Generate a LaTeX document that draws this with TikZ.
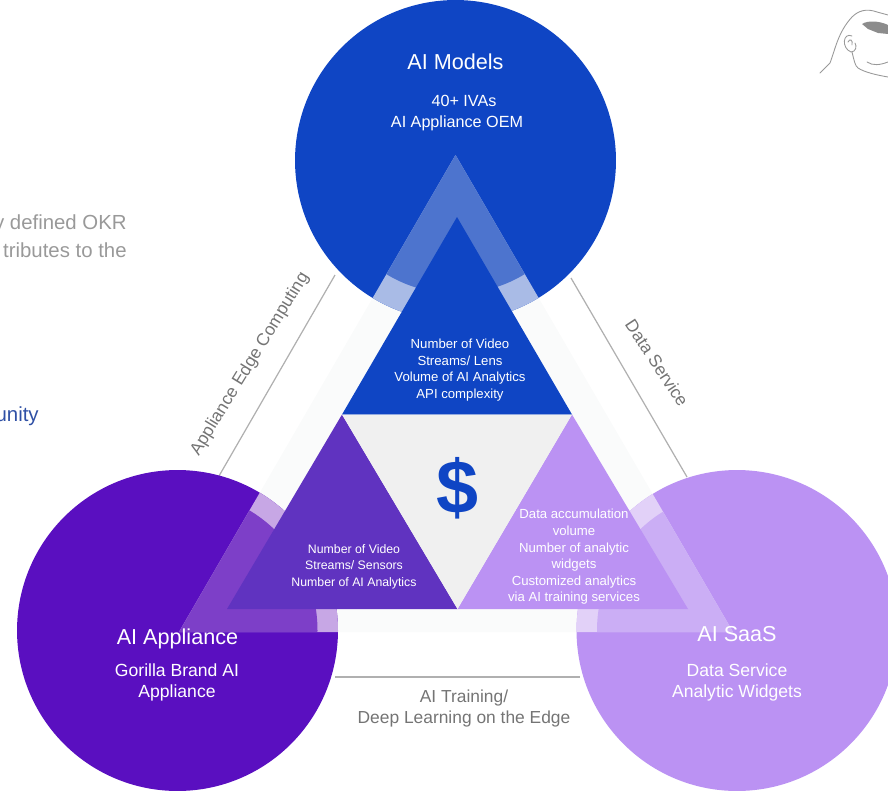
\documentclass[tikz,border=0pt]{standalone}
\usepackage{fontspec}
\setmainfont{Liberation Sans}
\usepackage{xcolor}
\usepackage{tikz}
\usetikzlibrary{positioning}
\usetikzlibrary{calc}
\definecolor{modelblue}{HTML}{0F45C4}
\definecolor{modelband}{HTML}{4D74CE}
\definecolor{modelring}{HTML}{A9BBE6}
\definecolor{appliancepurple}{HTML}{5A0FC0}
\definecolor{applianceband}{HTML}{7D3FC8}
\definecolor{appliancering}{HTML}{C7A7E5}
\definecolor{applianceinner}{HTML}{6033C0}
\definecolor{saaslilac}{HTML}{BB92F3}
\definecolor{saasband}{HTML}{CBAEF5}
\definecolor{saasring}{HTML}{E2D1F8}
\definecolor{bandgrey}{HTML}{FAFBFB}
\definecolor{centergrey}{HTML}{F0F0F0}
\definecolor{linkgrey}{HTML}{B0B0B0}
\definecolor{labelgrey}{HTML}{747474}
\definecolor{unityblue}{HTML}{2F50A5}
\tikzstyle{hub} = [circle,draw=none,inner sep=0pt,minimum size=6.42cm]
\tikzstyle{title} = [text=white,inner sep=0pt,font=\fontsize{12.3}{14}\selectfont]
\tikzstyle{sub} = [text=white,inner sep=0pt,align=center,font=\fontsize{9.2}{12}\selectfont]
\tikzstyle{metric} = [text=white,inner sep=0pt,align=center,font=\fontsize{7.5}{9.45}\selectfont]
\tikzstyle{link} = [draw=linkgrey,line width=0.7pt]
\tikzstyle{linklabel} = [text=labelgrey,inner sep=0pt,align=center,font=\fontsize{9.9}{11.9}\selectfont]
\tikzstyle{sidetext} = [inner sep=0pt,font=\fontsize{11.6}{15.9}\selectfont]
\tikzstyle{sketch} = [draw=black!40,line width=0.5pt,line cap=round,line join=round]
\newcommand{\bandpart}[4]{ %
  % Paint the band where it crosses circle #1.
  \begin{scope}
    \clip (#1.center) circle (160.5);
    \fill[#2] (apex) -- (baseL) -- (baseR) -- cycle;
    \clip (#1.center) circle (#4);
    \fill[#3] (apex) -- (baseL) -- (baseR) -- cycle;
  \end{scope}
}

\begin{document}
\begin{tikzpicture}[x=0.02cm,y=-0.02cm]
  \useasboundingbox (0,0) rectangle (888,791);
  % band corners
  \coordinate (apex) at (455.5,155);
  \coordinate (baseL) at (179,632);
  \coordinate (baseR) at (733,632);
  % inner corners
  \coordinate (top) at (457,217);
  \coordinate (midL) at (342,414.5);
  \coordinate (midR) at (572,414.5);
  \coordinate (botL) at (227,609);
  \coordinate (botC) at (457.5,609);
  \coordinate (botR) at (688,609);
  % link ends
  \coordinate (edgeA) at (335,275);
  \coordinate (edgeB) at (219,476);
  \coordinate (dataA) at (571,278);
  \coordinate (dataB) at (687,477);
  \coordinate (trainA) at (335,677);
  \coordinate (trainB) at (580,677);

  % links
  \draw[link] (edgeA) -- (edgeB);
  \draw[link] (dataA) -- (dataB);
  \draw[link] (trainA) -- (trainB);
  % band
  \fill[bandgrey] (apex) -- (baseL) -- (baseR) -- cycle;
  % circles
  \node[hub, fill=modelblue]       (models)    at (455.5,160.5) {};
  \node[hub, fill=appliancepurple] (appliance) at (177.5,630.5) {};
  \node[hub, fill=saaslilac]       (saas)      at (737,630.5) {};
  \bandpart{models}{modelring}{modelband}{133}
  \bandpart{appliance}{appliancering}{applianceband}{140}
  \bandpart{saas}{saasring}{saasband}{140}
  % inner triangles
  \fill[modelblue] (top) -- (midL) -- (midR) -- cycle;
  \fill[applianceinner] (midL) -- (botL) -- (botC) -- cycle;
  \fill[saaslilac] (midR) -- (botC) -- (botR) -- cycle;
  \fill[centergrey] (midL) -- (midR) -- (botC) -- cycle;

  % circle text
  \node[title] (modelstag) at (455.5,62) {AI Models};
  \node[sub] (modelssub) at (457,113) {\hspace{0.28cm}40+ IVAs\\AI Appliance OEM};
  \node[title] (appliancetag) at (177.5,639) {AI Appliance};
  \node[sub, font=\fontsize{10}{12}\selectfont] (appliancesub) at (177,682) {Gorilla Brand AI\\Appliance};
  \node[title] (saastag) at (737,634) {AI SaaS};
  \node[sub, font=\fontsize{10}{12}\selectfont] (saassub) at (737,682) {Data Service\\Analytic Widgets};
  % triangle text
  \node[metric] (modelsmetric) at (460,370) {Number of Video\\Streams/ Lens\\Volume of AI Analytics\\API complexity};
  \node[metric, font=\fontsize{7}{9.45}\selectfont] (appliancemetric) at (354,566.5) {Number of Video\\Streams/ Sensors\\Number of AI Analytics};
  \node[metric] (saasmetric) at (574,557) {Data accumulation\\volume\\Number of analytic\\widgets\\Customized analytics\\via AI training services};
  \node[inner sep=0pt, text=modelblue, font=\fontsize{43}{43}\selectfont\bfseries] (dollar) at (457,488) {\$};
  % link text
  \node[linklabel, rotate=58.5] (edgetag) at (250,364) {Appliance Edge Computing};
  \node[linklabel, rotate=-56.5] (datatag) at (657,363) {Data Service};
  \node[linklabel] (traintag) at (464,708.5) {AI Training/\\Deep Learning on the Edge};
  % cut off text
  \node[sidetext, text=black!40, anchor=east, align=right] (okrtext) at (127,236.5) {y defined OKR\\tributes to the};
  \node[sidetext, text=unityblue, anchor=east] (unitytext) at (39,416.5) {unity};

  % gorilla
  \draw[sketch] (820,73) -- (830,63) .. controls (835,50) and (838,32) .. (852,17) .. controls (858,11) and (866,8) .. (877,12) -- (888,15);
  \draw[sketch] (852,36) .. controls (843,32) and (841,48) .. (851,52) .. controls (856,52) and (857,46) .. (855,43);
  \draw[sketch] (848,42) .. controls (850,38) and (853,40) .. (852,45);
  \draw[sketch] (852,52) .. controls (854,60) and (855,66) .. (858,68) .. controls (864,72) and (876,75) .. (888,77);
  \draw[sketch] (867,62) .. controls (873,66) and (880,65) .. (888,62);
  \fill[black!45] (862,24) .. controls (868,20) and (880,21) .. (888,25) -- (888,34) -- (878,33) -- (868,29) -- cycle;
\end{tikzpicture}
\end{document}
